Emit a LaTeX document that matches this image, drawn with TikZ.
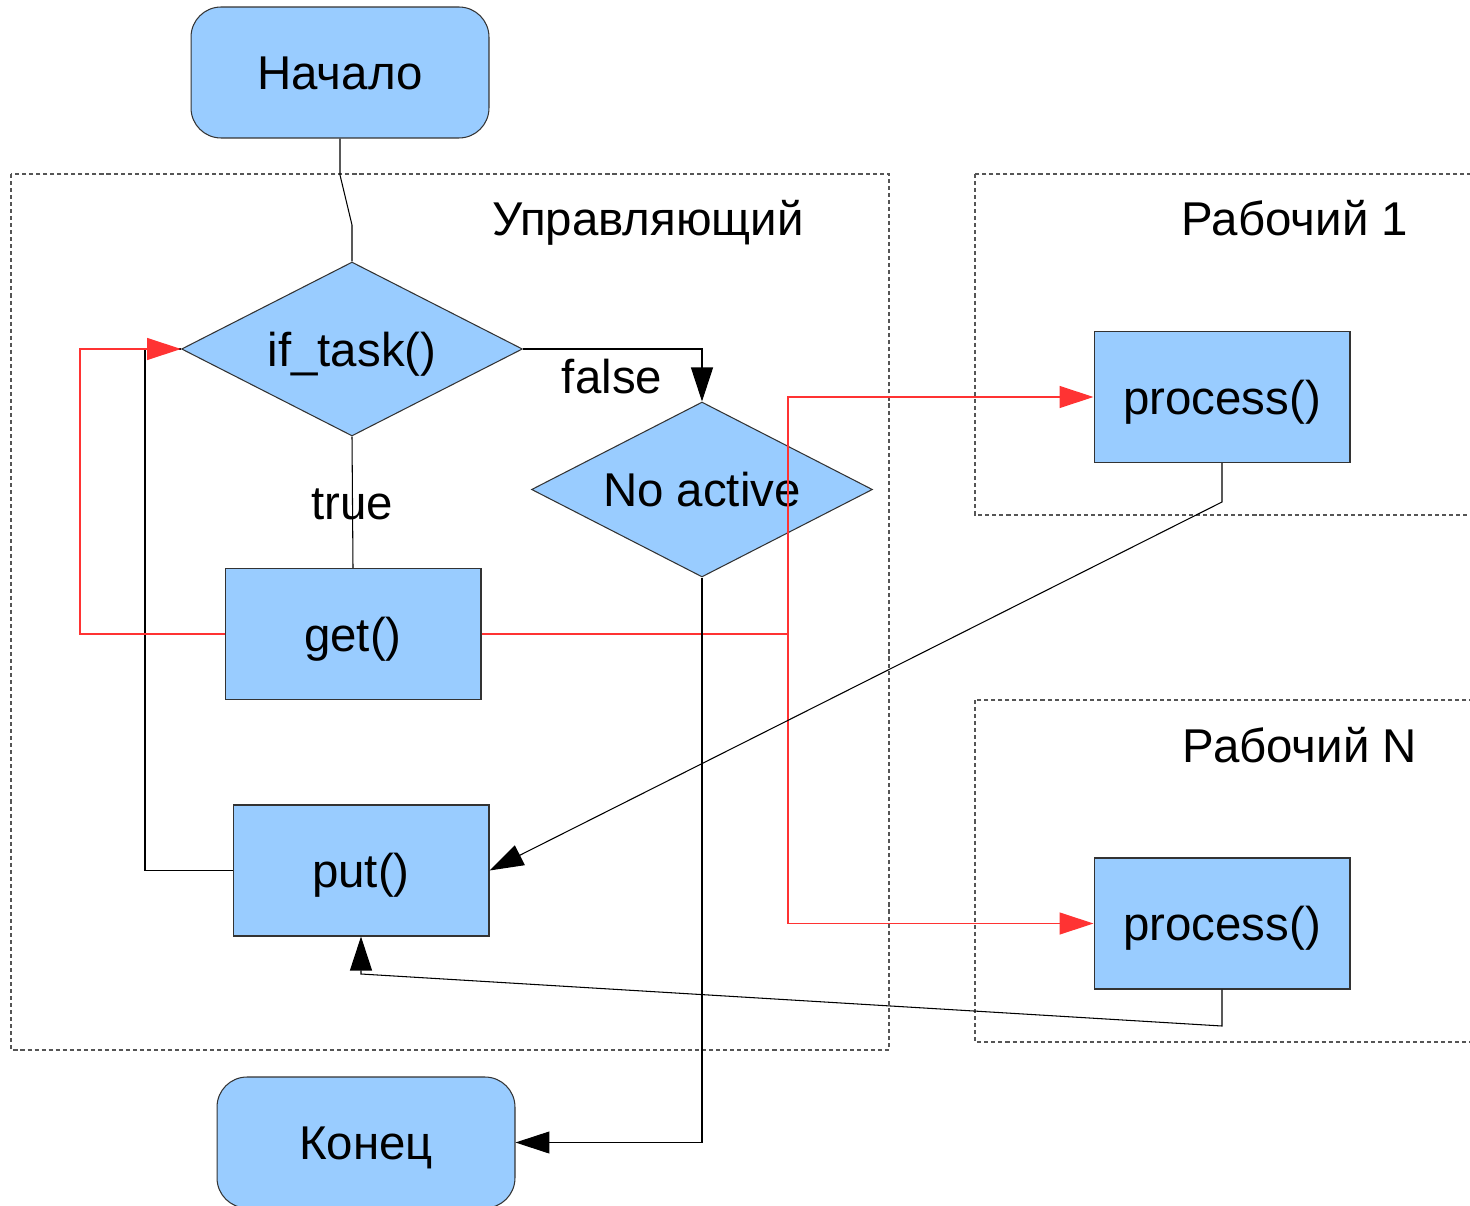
\documentclass[tikz,border=0pt]{standalone}
\usepackage{fontspec}
\setmainfont{Liberation Sans}
\usetikzlibrary{shapes.geometric,arrows.meta}
\definecolor{boxfill}{HTML}{99CCFF}
\definecolor{boxdraw}{HTML}{333333}
\definecolor{linered}{HTML}{FF3333}
\definecolor{dashgray}{HTML}{555555}
\begin{document}
\begin{tikzpicture}[x=0.02cm,y=-0.02cm,
  font=\fontsize{27}{32}\selectfont,
  every node/.append style={text height=19.4pt, text depth=0pt},
  procbox/.style={draw=boxdraw, fill=boxfill, line width=0.6pt, minimum width=5.12cm, minimum height=2.62cm, inner sep=0pt},
  termbox/.style={procbox, rounded corners=0.6cm, minimum width=5.96cm},
  decision/.style={draw=boxdraw, fill=boxfill, line width=0.6pt, diamond, aspect=2, inner sep=0pt, minimum width=6.82cm, minimum height=3.48cm},
  groupbox/.style={draw=dashgray, dash pattern=on 2.3pt off 1.7pt, line width=0.6pt},
  flow/.style={draw=black, line width=0.6pt},
  redflow/.style={draw=linered, line width=0.7pt},
  tip/.style={-{Triangle[length=0.68cm,width=0.44cm]}},
]
\useasboundingbox (0,0) rectangle (1470,1206);

% group frames
\draw[groupbox] (11,174) rectangle (889,1050);
\draw[groupbox] (975,174) rectangle (1490,515);
\draw[groupbox] (975,700) rectangle (1490,1042);
\node (lblctl) at (648,218) {Управляющий};
\node (lblw1) at (1295,218) {Рабочий 1};
\node (lblwn) at (1300,745) {Рабочий N};

% nodes
\node[termbox] (start) at (340,72.5) {Начало};
\node[decision] (iftask) at (352,349) {if\_task()};
\node[decision, minimum height=3.5cm] (noact) at (702,489.5) {No active};
\node[procbox] (get) at (353,634) {get()};
\node[procbox] (put) at (361,870.5) {put()};
\node[procbox] (proc1) at (1222,397) {process()};
\node[procbox] (procN) at (1222,923.5) {process()};
\node[termbox] (end) at (366,1142.5) {Конец};

% connectors
\draw[flow] (start.south) -- (340,175) -- (352,225) -- (iftask.north);
\draw[flow,tip] (iftask.east) -| (noact.north);
\node (lblfalse) at (612,376) {false};
\draw[flow] (iftask.south) -- (get.north);
\node (lbltrue) at (352,502) {true};
\draw[flow] (put.west) -- (145,870.5) -- (145,349) -- (iftask.west);
\draw[redflow,tip] (get.west) -- (80,634) -- (80,349) -- (iftask.west);
\coordinate (split) at (788,634);
\draw[redflow] (get.east) -- (split);
\draw[redflow,tip] (split) |- (proc1.west);
\draw[redflow,tip] (split) |- (procN.west);
\draw[flow,tip] (noact.south) |- (end.east);
\draw[flow,tip] (proc1.south) -- (1222,502) -- (put.east);
\draw[flow,tip] (procN.south) -- (1222,1026) -- (361,974) -- (put.south);
\end{tikzpicture}
\end{document}
